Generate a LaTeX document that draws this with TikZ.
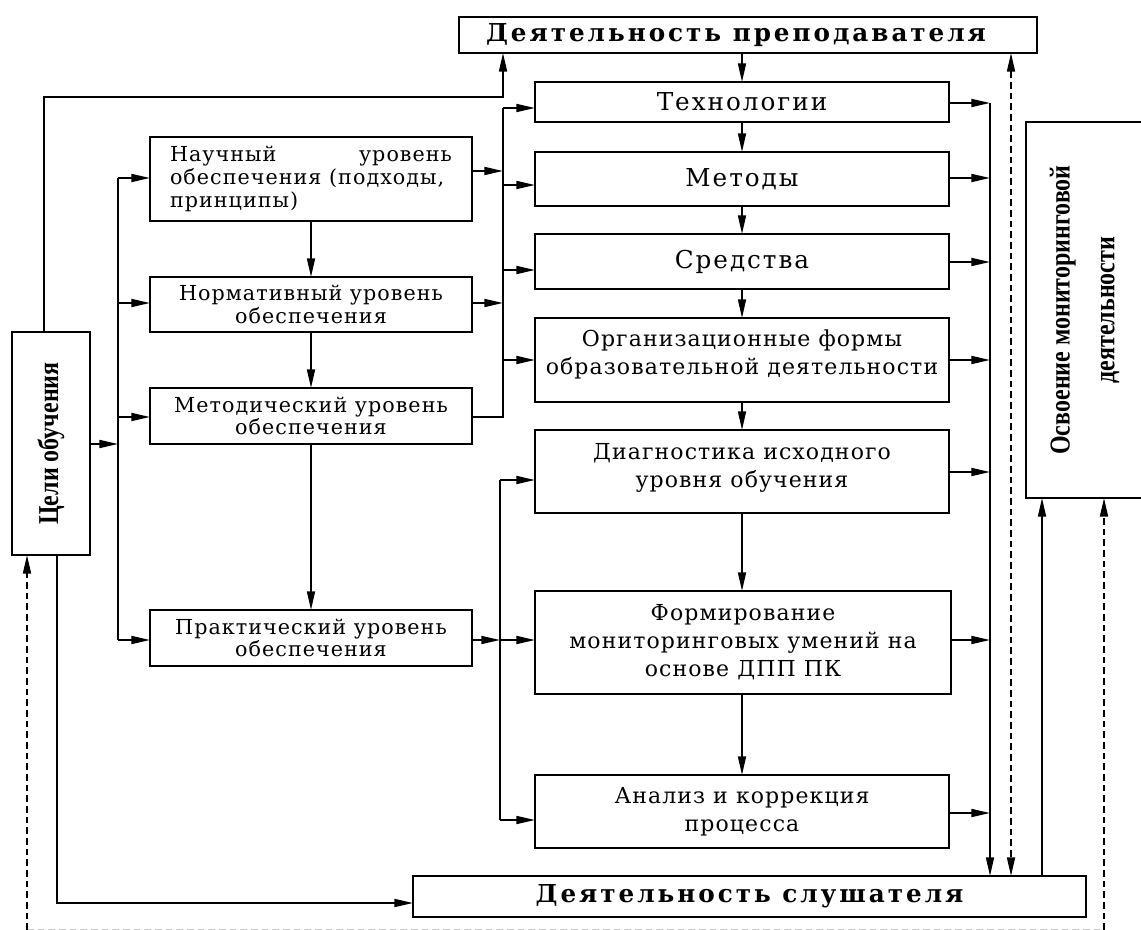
\documentclass[tikz,border=0pt]{standalone}
\usepackage{fontspec}
\setmainfont{Liberation Serif}
\newfontfamily\fbody[LetterSpace=5]{DejaVu Serif}
\newfontfamily\fbig[LetterSpace=8]{DejaVu Serif}
\newfontfamily\fhead[LetterSpace=12]{DejaVu Serif}
\usetikzlibrary{arrows.meta}
\begin{document}
\begin{tikzpicture}[x=0.75pt,y=-0.75pt,
  >={Triangle[length=14pt,width=6pt]},
  box/.style={draw, line width=1.4pt, inner sep=0pt, outer sep=0pt, align=center},
  wh/.style 2 args={minimum width=#1*0.75pt, minimum height=#2*0.75pt},
  big/.style={font=\fbig\fontsize{18.5}{22}\selectfont},
  mid/.style={font=\fbody\fontsize{16.5}{21}\selectfont},
  sml/.style={font=\fbody\fontsize{15.5}{17}\selectfont},
  head/.style={font=\fhead\bfseries\fontsize{18.5}{22}\selectfont},
  rot/.style={font=\rmfamily\bfseries\fontsize{18}{22}\selectfont},
  conn/.style={line width=1.3pt},
  arr/.style={conn, ->},
  dsh/.style={conn, dash pattern=on 5pt off 3pt},
]
\useasboundingbox (0,0) rectangle (1141,930);
\clip (0,0) rectangle (1141,930);
\fill[white] (0,0) rectangle (1141,930);

% boxes
\node[box, head, wh={578}{36}] (top) at (748,35) {Деятельность преподавателя\hspace*{18pt}};
\node[box, big, wh={414}{40}] (tech) at (742,102) {Технологии};
\node[box, big, wh={414}{54}] (met) at (742,179) {Методы};
\node[box, big, wh={414}{55}] (sred) at (742,261.5) {Средства};
\node[box, mid, wh={414}{84}] (org) at (742,360) {Организационные формы\\образовательной деятельности\\[-9pt]\mbox{}};
\node[box, mid, wh={414}{83}] (diag) at (742,471.5) {Диагностика исходного\\уровня обучения\\[-12pt]\mbox{}};
\node[box, mid, wh={416}{103}] (form) at (743,642.5) {Формирование\\мониторинговых умений на\\основе ДПП ПК};
\node[box, mid, wh={414}{73}] (anal) at (742,811.5) {Анализ и коррекция\\процесса};
\node[box, head, wh={673}{41}] (bot) at (749.5,896.5) {Деятельность слушателя};
\node[box, rot, wh={118}{376}] (osv) at (1085,310) {\rotatebox{90}{\scalebox{1}[1.2]{\begin{tabular}{@{}c@{}}Освоение мониторинговой\\[6pt]деятельности\end{tabular}}}};
\node[box, rot, wh={78}{223}] (celi) at (51,443.5) {\rotatebox{90}{\scalebox{1}[1.2]{Цели обучения}}};
\node[box, sml, wh={322}{84}, align=left] (nauch) at (311,179) {\makebox[211.5pt]{Научный\hfill уровень}\\обеспечения (подходы,\\принципы)};
\node[box, sml, wh={322}{55}] (norm) at (311,304.5) {Нормативный уровень\\обеспечения};
\node[box, sml, wh={322}{56}] (metod) at (311,416) {Методический уровень\\обеспечения};
\node[box, sml, wh={322}{56}] (prakt) at (311,638) {Практический уровень\\обеспечения};

% coordinates
\coordinate (ct) at (44,97);
\coordinate (ctt) at (503,97);
\coordinate (cb) at (57,903);
\coordinate (lb1) at (118,178);
\coordinate (lb2) at (118,303);
\coordinate (lb3) at (118,417);
\coordinate (lbc) at (118,444);
\coordinate (lb4) at (118,640);
\coordinate (mb0) at (503,108);
\coordinate (mbn) at (503,171);
\coordinate (mbm) at (503,185);
\coordinate (mbs) at (503,270);
\coordinate (mbr) at (503,303);
\coordinate (mbo) at (503,360);
\coordinate (mbt) at (503,417);
\coordinate (lo1) at (500,480);
\coordinate (lo2) at (500,640);
\coordinate (lo3) at (500,820);
\coordinate (rb0) at (990,103);
\coordinate (rb1) at (990,178);
\coordinate (rb2) at (990,262);
\coordinate (rb3) at (990,360);
\coordinate (rb4) at (990,472);
\coordinate (rb5) at (990,640);
\coordinate (rb6) at (990,813);
\coordinate (dm) at (1011,500);
\coordinate (so) at (1042,700);
\coordinate (dr) at (1104,930);
\coordinate (dl) at (27,930);

% vertical chains
\draw[arr] (tech.north |- top.south) -- (tech.north);
\draw[arr] (tech.south) -- (met.north);
\draw[arr] (met.south) -- (sred.north);
\draw[arr] (sred.south) -- (org.north);
\draw[arr] (org.south) -- (diag.north);
\draw[arr] (diag.south) -- (diag.south |- form.north);
\draw[arr] (anal.north |- form.south) -- (anal.north);
\draw[arr] (nauch.south) -- (norm.north);
\draw[arr] (norm.south) -- (metod.north);
\draw[arr] (metod.south) -- (prakt.north);

% goals
\draw[arr] (celi.north -| ct) -- (ct) -- (ctt) -- (top.south -| ctt);
\draw[arr] (celi.south -| cb) -- (cb) -- (bot.west |- cb);
\draw[dsh, gray!45] (dl) -- (dr);
\draw[arr, dsh] (dl) -- (celi.south -| dl);

% left bus
\draw[conn] (lb1) -- (lb4);
\draw[arr] (celi.east |- lbc) -- (lbc);
\draw[arr] (lb1) -- (nauch.west |- lb1);
\draw[arr] (lb2) -- (norm.west |- lb2);
\draw[arr] (lb3) -- (metod.west |- lb3);
\draw[arr] (lb4) -- (prakt.west |- lb4);

% middle upper bus
\draw[arr] (nauch.east |- mbn) -- (mbn);
\draw[arr] (norm.east |- mbr) -- (mbr);
\draw[conn] (metod.east |- mbt) -- (mbt) -- (mb0);
\draw[arr] (mb0) -- (tech.west |- mb0);
\draw[arr] (mbm) -- (met.west |- mbm);
\draw[arr] (mbs) -- (sred.west |- mbs);
\draw[arr] (mbo) -- (org.west |- mbo);

% middle lower bus
\draw[conn] (lo1) -- (lo3);
\draw[arr] (prakt.east |- lo2) -- (lo2);
\draw[arr] (lo2) -- (form.west |- lo2);
\draw[arr] (lo1) -- (diag.west |- lo1);
\draw[arr] (lo3) -- (anal.west |- lo3);

% right bus
\draw[arr] (rb0) -- (bot.north -| rb0);
\draw[arr] (tech.east |- rb0) -- (rb0);
\draw[arr] (met.east |- rb1) -- (rb1);
\draw[arr] (sred.east |- rb2) -- (rb2);
\draw[arr] (org.east |- rb3) -- (rb3);
\draw[arr] (diag.east |- rb4) -- (rb4);
\draw[arr] (form.east |- rb5) -- (rb5);
\draw[arr] (anal.east |- rb6) -- (rb6);

% right side links
\draw[conn, dsh, <->] (top.south -| dm) -- (bot.north -| dm);
\draw[arr] (bot.north -| so) -- (osv.south -| so);
\draw[arr, dsh] (dr) -- (osv.south -| dr);
\end{tikzpicture}
\end{document}
